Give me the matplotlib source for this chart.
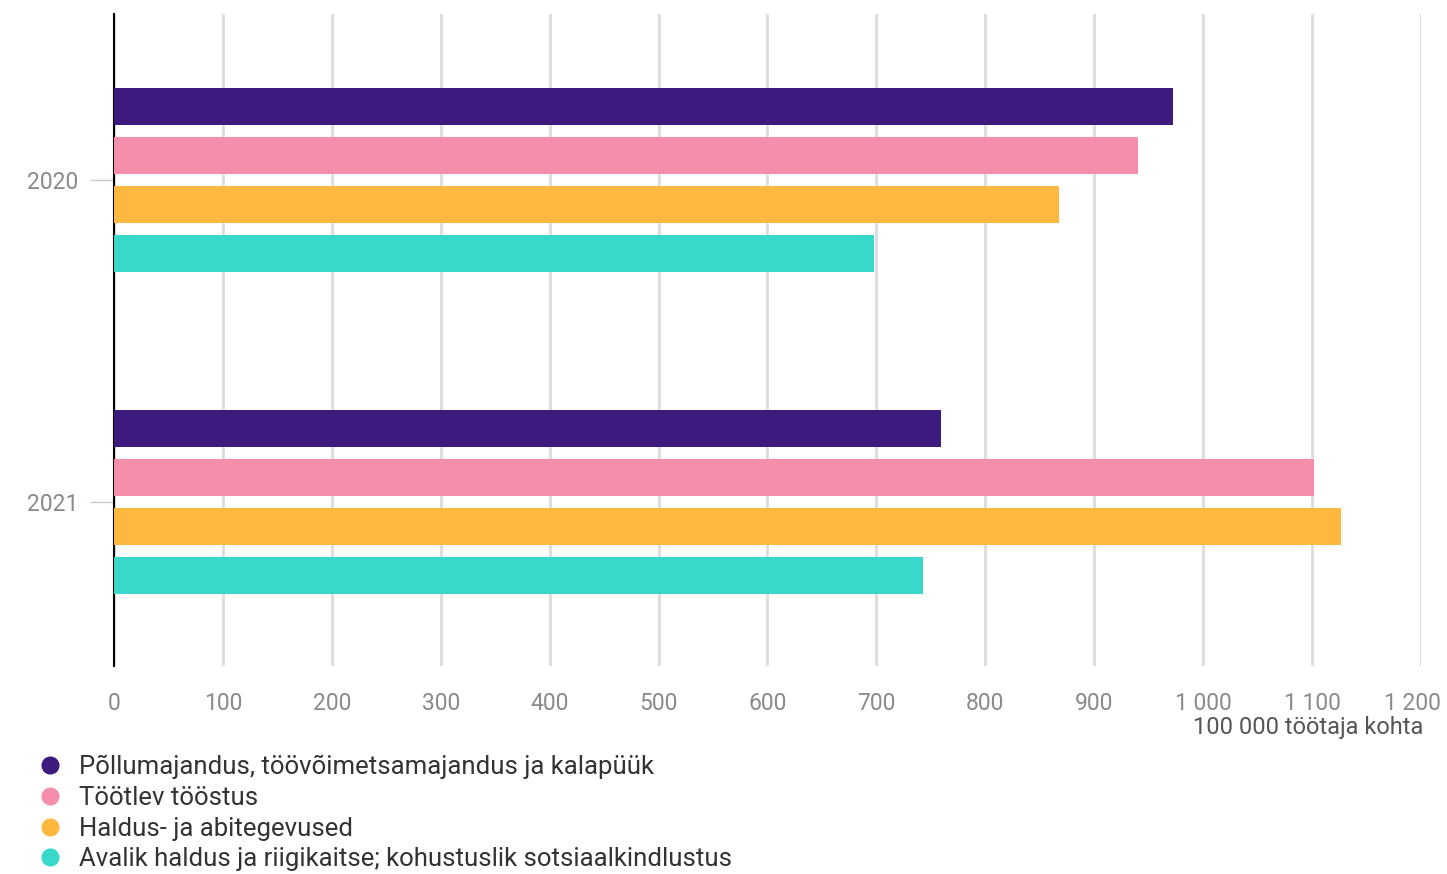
import matplotlib.pyplot as plt
import matplotlib.transforms as mtransforms
import numpy as np
from matplotlib.lines import Line2D
from matplotlib.ticker import FuncFormatter

plt.rcParams['font.family'] = ['Roboto', 'DejaVu Sans']

# Data
years = ["2020", "2021"]
sectors = [
    "Põllumajandus, töövõimetsamajandus ja kalapüük",
    "Töötlev tööstus",
    "Haldus- ja abitegevused",
    "Avalik haldus ja riigikaitse; kohustuslik sotsiaalkindlustus",
]
vals_agri = [972, 759]
vals_manuf = [940, 1102]
vals_admin = [868, 1127]
vals_public = [698, 743]
series = [vals_agri, vals_manuf, vals_admin, vals_public]

colors = ['#3d1a7e', '#f48eaa', '#fdb840', '#38d8ca']

fig = plt.figure(figsize=(14.47, 8.74), dpi=100)
ax = fig.add_axes([0.0788, 0.238, 0.9032, 0.746])

y = np.arange(len(years))
step = 0.152
height = 0.116
for i, (vals, col) in enumerate(zip(series, colors)):
    ax.barh(y + (i - 1.5) * step, vals, height=height, color=col, zorder=3)

ax.set_xlim(0, 1200)
ax.set_ylim(1.51, -0.516)
ax.set_xticks(np.arange(0, 1201, 100))
ax.xaxis.set_major_formatter(FuncFormatter(lambda v, p: f"{int(v):,}".replace(",", " ")))
ax.set_yticks(y)
ax.set_yticklabels(years)

ax.grid(axis='x', color='#dcdcdc', linewidth=2, zorder=0)
for s in ['top', 'right', 'bottom']:
    ax.spines[s].set_visible(False)
ax.spines['left'].set_color('black')
ax.spines['left'].set_linewidth(1.5)

ax.tick_params(axis='x', length=0, pad=19, labelsize=16.5, labelcolor='#8a8a8a')
ax.tick_params(axis='y', length=17, width=1, color='#c8c8d8', pad=9,
               labelsize=16.5, labelcolor='#8a8a8a')

# keep the last tick label inside the figure
last = ax.get_xticklabels()[-1]
last.set_horizontalalignment('right')
last.set_transform(last.get_transform() +
                   mtransforms.ScaledTranslation(0.2, 0, fig.dpi_scale_trans))

fig.text(0.984, 0.168, "100 000 töötaja kohta", ha='right', va='center',
         fontsize=17, color='#555555')

handles = [Line2D([], [], marker='o', linestyle='none', markersize=12,
                  markerfacecolor=c, markeredgecolor=c) for c in colors]
fig.legend(handles, sectors, loc='upper left', bbox_to_anchor=(0.017, 0.148),
           frameon=False, fontsize=18.5, labelcolor='#333333',
           handletextpad=0.5, labelspacing=0.26, borderaxespad=0,
           handlelength=1.2)

fig.savefig('out.png', dpi=100)
